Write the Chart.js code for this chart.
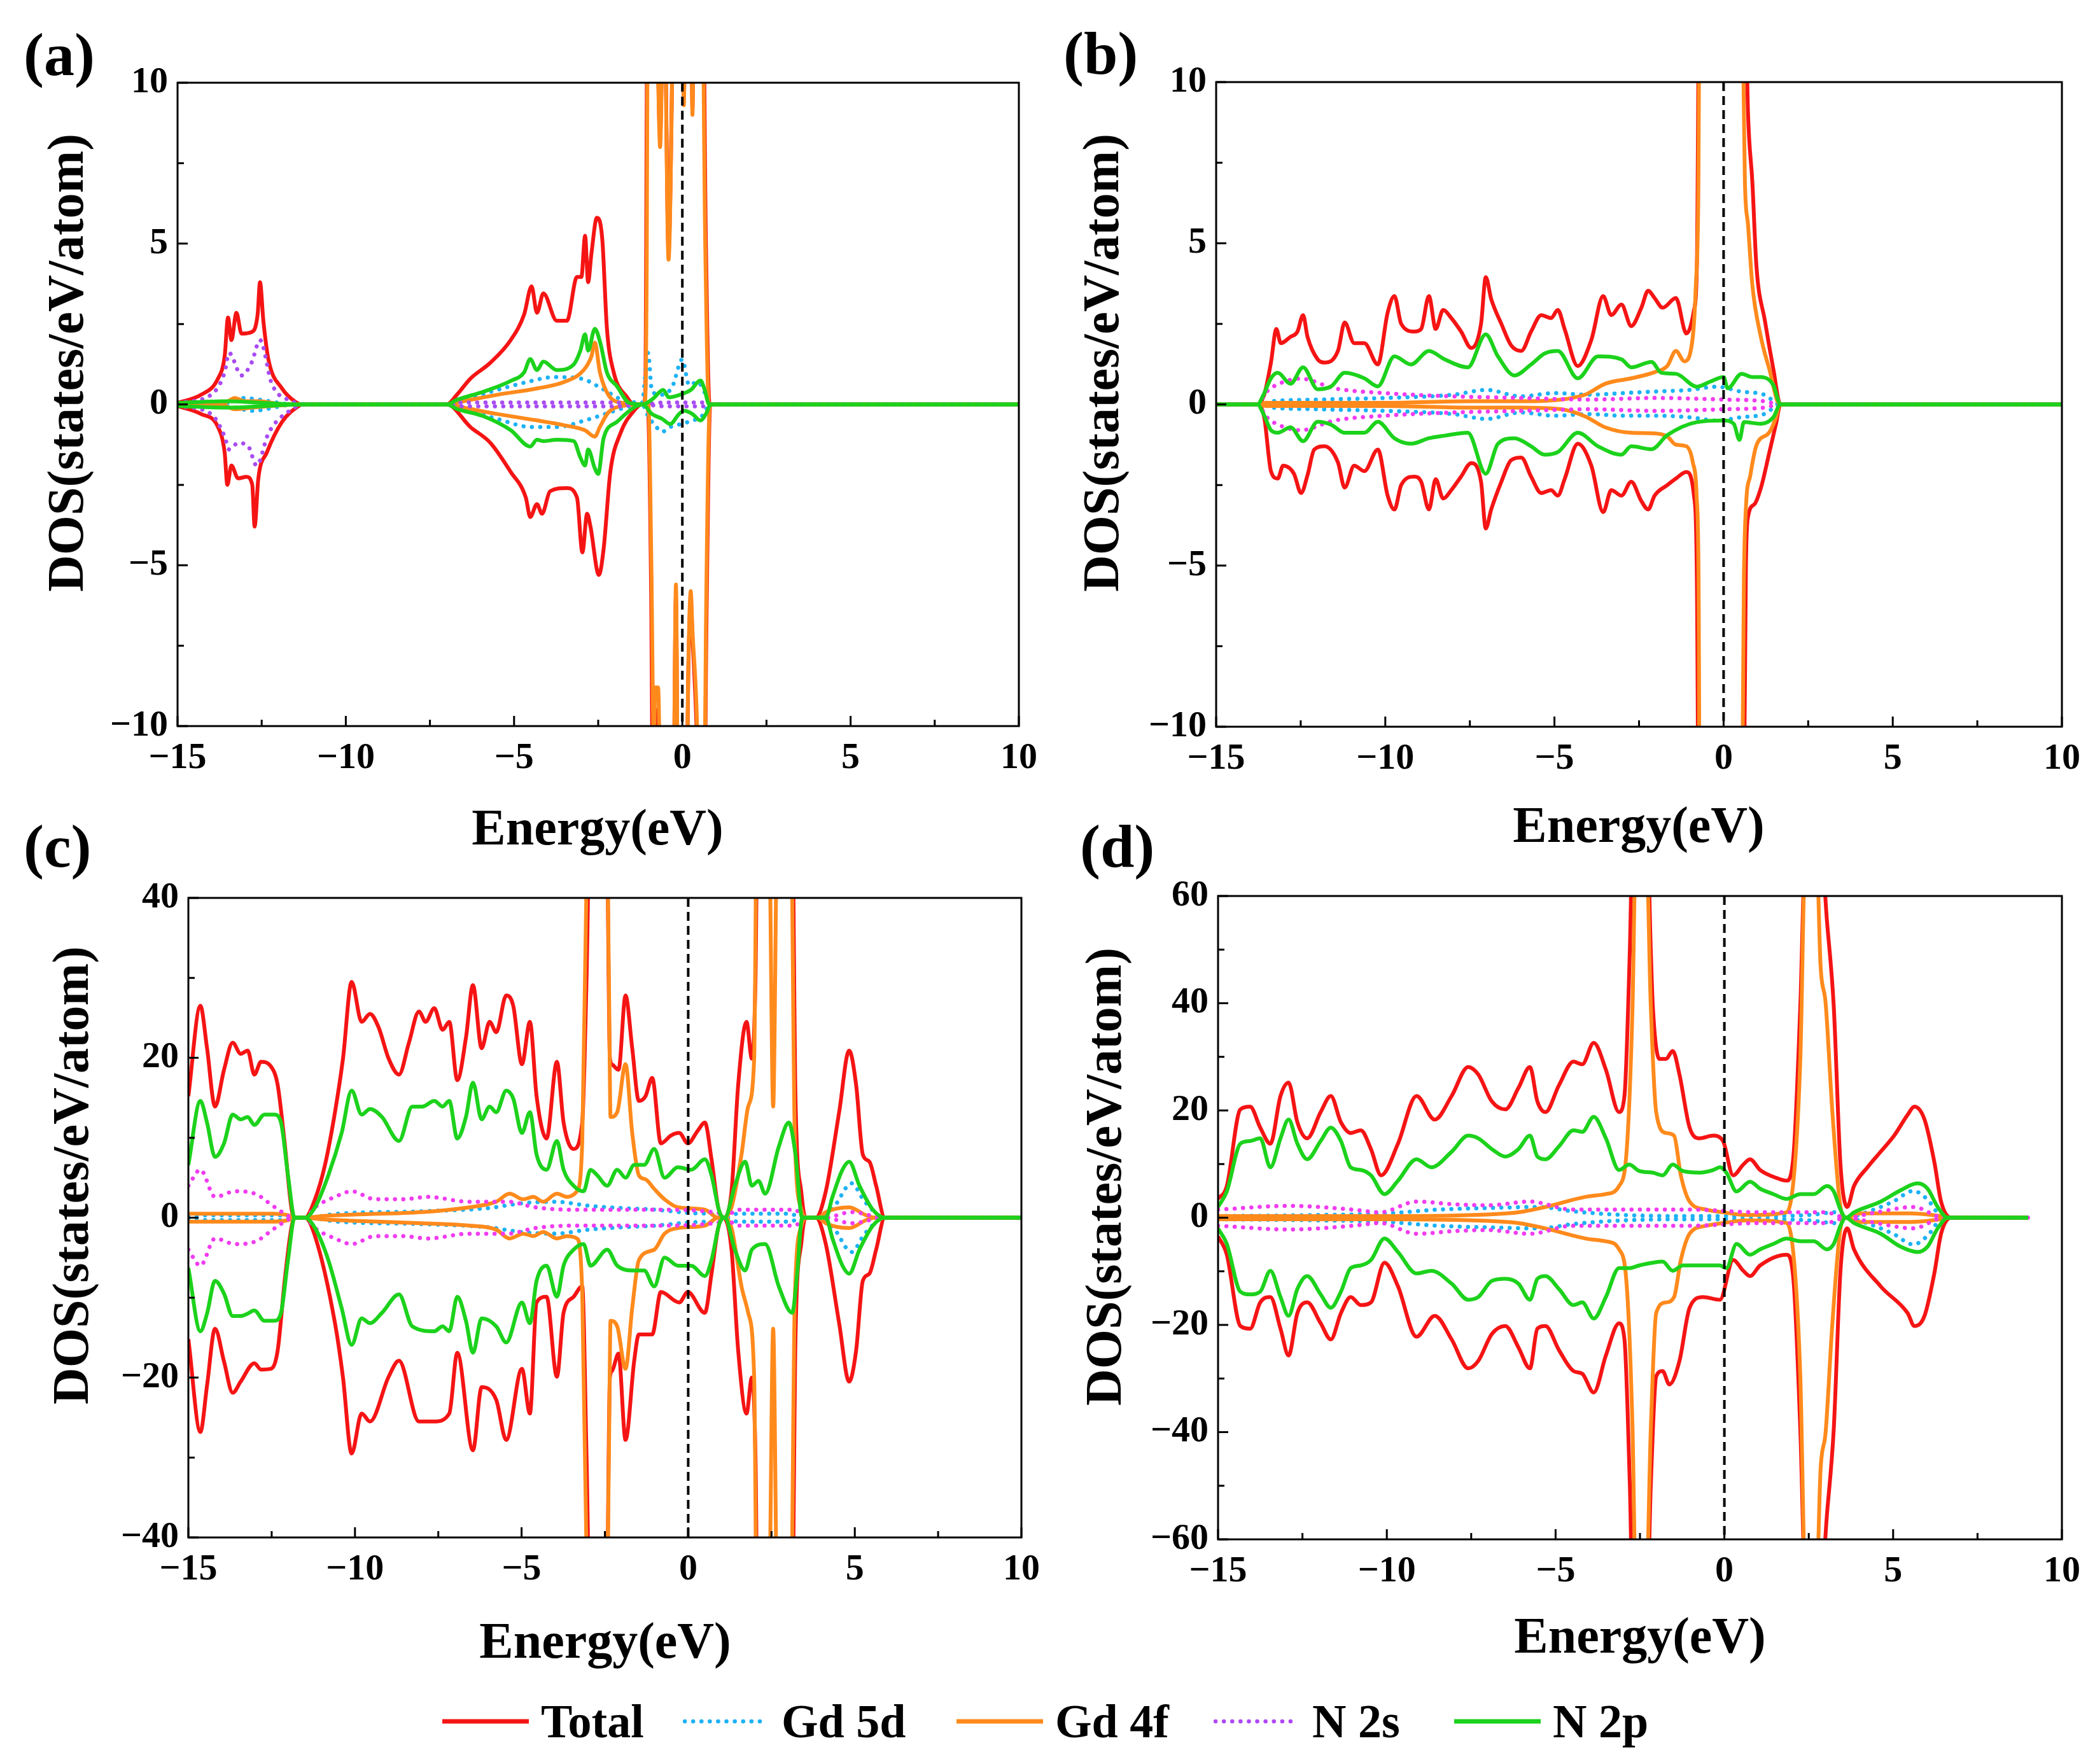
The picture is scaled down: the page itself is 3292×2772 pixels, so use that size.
<!DOCTYPE html>
<html>
<head>
<meta charset="utf-8">
<script src="https://cdn.jsdelivr.net/npm/chart.js"></script>
<style>
  body { margin: 0; background: #fff; }
  #fig { position: relative; width: 3292px; height: 2772px; overflow: hidden;
         font-family: "Liberation Serif", "Times New Roman", serif; font-weight: bold; color: #000; }
  #fig canvas { position: absolute; }
  .tag { position: absolute; font-size: 96px; line-height: 1; transform: translateY(-50%); }
  .xt { position: absolute; font-size: 80px; line-height: 1; white-space: nowrap; transform: translate(-50%, -50%); }
  .yt { position: absolute; font-size: 80px; line-height: 1; white-space: nowrap; transform: translate(-50%, -50%) rotate(-90deg); }
  .leg { position: absolute; top: 2705px; height: 0; display: flex; align-items: center; font-size: 74px; white-space: nowrap; }
  .leg svg { margin-right: 19px; }
</style>
</head>
<body>
<div id="fig">
  <canvas id="pa" width="1650" height="1330" style="left:0;top:0"></canvas>
  <canvas id="pb" width="1642" height="1330" style="left:1650px;top:0"></canvas>
  <canvas id="pc" width="1650" height="1200" style="left:0;top:1330px"></canvas>
  <canvas id="pd" width="1642" height="1200" style="left:1650px;top:1330px"></canvas>

  <div class="tag" style="left:37px;top:86px">(a)</div>
  <div class="tag" style="left:1671px;top:84px">(b)</div>
  <div class="tag" style="left:37px;top:1330px">(c)</div>
  <div class="tag" style="left:1697px;top:1330px">(d)</div>

  <div class="xt" style="left:939px;top:1300px">Energy(eV)</div>
  <div class="xt" style="left:2575px;top:1296px">Energy(eV)</div>
  <div class="xt" style="left:951px;top:2578px">Energy(eV)</div>
  <div class="xt" style="left:2577px;top:2570px">Energy(eV)</div>

  <div class="yt" style="left:103px;top:570px">DOS(states/eV/atom)</div>
  <div class="yt" style="left:1730px;top:570px">DOS(states/eV/atom)</div>
  <div class="yt" style="left:111px;top:1847px">DOS(states/eV/atom)</div>
  <div class="yt" style="left:1734px;top:1849px">DOS(states/eV/atom)</div>

  <div id="legendBox"></div>
</div>
<script>
// ---- axis ticks ----
const xTicks = [-15, -10, -5, 0, 5, 10];
const xMinor = [-12.5, -7.5, -2.5, 2.5, 7.5];
const yTicksAB = [-10, -5, 0, 5, 10];
const yMinorAB = [-7.5, -2.5, 2.5, 7.5];
const yTicksC = [-40, -20, 0, 20, 40];
const yMinorC = [-30, -10, 10, 30];
const yTicksD = [-60, -40, -20, 0, 20, 40, 60];
const yMinorD = [-50, -30, -10, 10, 30, 50];

const seriesNames = ['Total', 'Gd 5d', 'Gd 4f', 'N 2s', 'N 2p'];

// ---- panel (a): [energy, DOS] ----
const aTotUp = [[-15,0.05],[-14.3,0.3],[-13.8,0.8],[-13.6,1.5],[-13.5,2.7],[-13.4,2.0],[-13.25,2.85],[-13.1,2.2],[-12.8,2.25],[-12.62,2.8],[-12.55,3.8],[-12.45,2.6],[-12.3,1.4],[-11.9,0.5],[-11.5,0.08],[-11.3,0],[-7.0,0],[-6.7,0.3],[-6.3,0.8],[-5.7,1.3],[-5.1,2.0],[-4.7,2.8],[-4.48,3.67],[-4.32,2.85],[-4.13,3.45],[-3.73,2.6],[-3.43,2.6],[-3.13,3.96],[-3.0,3.96],[-2.89,5.24],[-2.8,3.8],[-2.7,4.7],[-2.54,5.8],[-2.38,5.15],[-2.24,2.35],[-2.04,1.0],[-1.64,0.22],[-1.44,0],[-1.15,0],[-1.1,0.4],[-1.03,14],[-0.8,14],[-0.66,8.3],[-0.55,14],[-0.41,4.8],[-0.22,14],[0.0,14],[0.045,9.5],[0.1,14],[0.25,14],[0.3,9.2],[0.36,14],[0.6,14],[0.7,5],[0.81,0],[10,0]];
const aTotDn = [[-15,-0.05],[-14.3,-0.3],[-13.8,-0.7],[-13.6,-1.5],[-13.52,-2.5],[-13.4,-1.9],[-13.2,-2.3],[-12.95,-2.25],[-12.78,-2.5],[-12.71,-3.8],[-12.6,-2.3],[-12.35,-1.5],[-11.9,-0.55],[-11.4,-0.05],[-11.3,0],[-7.0,0],[-6.3,-0.7],[-5.7,-1.2],[-5.1,-2.1],[-4.65,-2.9],[-4.52,-3.5],[-4.32,-3.1],[-4.17,-3.4],[-3.93,-2.7],[-3.43,-2.6],[-3.13,-2.9],[-2.97,-4.6],[-2.83,-3.4],[-2.73,-3.8],[-2.48,-5.3],[-2.34,-4.5],[-2.14,-2.1],[-1.84,-0.9],[-1.44,-0.2],[-1.2,0],[-1.03,0],[-0.93,-5.5],[-0.86,-14],[-0.8,-9.5],[-0.72,-9.5],[-0.62,-14],[-0.28,-14],[-0.19,-6],[-0.12,-14],[0.1,-14],[0.18,-8.2],[0.25,-6.1],[0.3,-7.2],[0.45,-11],[0.5,-14],[0.64,-14],[0.72,-6.5],[0.83,0],[10,0]];
const a5dUp = [[-15,0],[-13.5,0.05],[-13.0,0.2],[-12.6,0.15],[-11.5,0],[-7.0,0],[-6.3,0.2],[-5.5,0.45],[-4.6,0.7],[-3.8,0.85],[-3.0,0.8],[-2.4,0.5],[-1.8,0.15],[-1.2,0.05],[-1.02,1.6],[-0.9,0.4],[-0.6,0.3],[-0.3,0.55],[0.0,1.4],[0.2,0.6],[0.45,0.7],[0.7,0.3],[0.85,0],[10,0]];
const a5dDn = [[-15,0],[-13.3,-0.1],[-12.8,-0.2],[-11.5,0],[-7.0,0],[-6.3,-0.2],[-5.5,-0.45],[-4.5,-0.7],[-3.7,-0.7],[-2.9,-0.5],[-2.3,-0.3],[-1.7,-0.1],[-1.2,0],[-1.0,-0.4],[-0.85,-0.6],[-0.6,-0.85],[-0.35,-0.7],[0.0,-0.6],[0.3,-0.5],[0.55,-0.4],[0.85,0],[10,0]];
const a4fUp = [[-15,0],[-13.6,0.05],[-13.3,0.2],[-13.0,0.1],[-12.6,0.1],[-12.0,0.02],[-11.3,0],[-7.0,0],[-6.5,0.1],[-5.5,0.3],[-4.3,0.5],[-3.5,0.7],[-2.93,1.07],[-2.7,1.5],[-2.6,1.92],[-2.45,1.0],[-2.2,0.3],[-1.8,0.05],[-1.15,0],[-1.1,0.2],[-1.06,4],[-1.02,14],[-0.8,14],[-0.66,8.0],[-0.55,14],[-0.41,4.5],[-0.22,14],[0.0,14],[0.045,9.3],[0.1,14],[0.25,14],[0.3,9.0],[0.36,14],[0.58,14],[0.68,5],[0.79,0],[10,0]];
const a4fDn = [[-15,0],[-13.6,-0.05],[-13.3,-0.15],[-12.8,-0.1],[-11.3,0],[-7.0,0],[-6.5,-0.1],[-5.5,-0.3],[-4.3,-0.5],[-3.5,-0.65],[-2.9,-0.8],[-2.6,-1.0],[-2.45,-0.7],[-2.2,-0.25],[-1.8,-0.05],[-1.1,0],[-1.01,0],[-0.92,-5],[-0.85,-10.5],[-0.8,-8.8],[-0.72,-8.8],[-0.62,-14],[-0.28,-14],[-0.19,-5.6],[-0.12,-14],[0.1,-14],[0.18,-8],[0.25,-5.8],[0.3,-7],[0.45,-10.5],[0.5,-14],[0.64,-14],[0.7,-7],[0.82,0],[10,0]];
const a2sUp = [[-15,0.05],[-14.0,0.3],[-13.6,1.0],[-13.47,1.6],[-13.1,0.9],[-12.8,1.3],[-12.55,2.0],[-12.2,0.64],[-11.6,0.1],[-11.2,0],[-7.0,0],[-6.5,0.06],[-2.0,0.06],[-1.2,0],[-0.5,0.06],[0.6,0.06],[0.85,0],[10,0]];
const a2sDn = [[-15,-0.05],[-14.0,-0.3],[-13.6,-1.0],[-13.47,-1.4],[-13.2,-1.2],[-12.9,-1.3],[-12.65,-1.9],[-12.3,-0.9],[-11.6,-0.15],[-11.2,0],[-7.0,0],[-6.5,-0.06],[-2.0,-0.06],[-1.2,0],[-0.5,-0.06],[0.6,-0.06],[0.85,0],[10,0]];
const a2pUp = [[-15,0.05],[-13.5,0.1],[-13.0,0.08],[-11.3,0],[-7.0,0],[-6.7,0.14],[-5.9,0.4],[-5.1,0.73],[-4.7,1.0],[-4.52,1.41],[-4.32,1.07],[-4.13,1.33],[-3.73,1.07],[-3.23,1.24],[-3.03,1.67],[-2.89,2.18],[-2.8,1.67],[-2.6,2.35],[-2.44,1.92],[-2.24,0.99],[-1.94,0.56],[-1.58,0.05],[-1.18,0],[-0.88,0.17],[-0.57,0.45],[-0.4,0.22],[0.06,0.35],[0.25,0.45],[0.54,0.74],[0.65,0.5],[0.8,0],[10,0]];
const a2pDn = [[-15,-0.05],[-13.5,-0.1],[-11.3,0],[-7.0,0],[-6.7,-0.14],[-5.9,-0.37],[-5.1,-0.8],[-4.52,-1.31],[-4.32,-1.1],[-4.13,-1.14],[-3.73,-1.1],[-3.23,-1.14],[-3.03,-1.65],[-2.89,-1.9],[-2.8,-1.4],[-2.6,-1.99],[-2.5,-2.16],[-2.34,-1.05],[-1.94,-0.54],[-1.44,-0.1],[-1.18,0],[-0.9,-0.3],[-0.6,-0.45],[-0.36,-0.61],[-0.1,-0.3],[0.06,-0.2],[0.3,-0.3],[0.54,-0.5],[0.7,-0.3],[0.85,0],[10,0]];

// ---- panel (b) ----
const bTotUp = [[-15,0],[-13.78,0],[-13.58,0.3],[-13.38,1.3],[-13.22,2.34],[-13.09,1.9],[-12.8,2.1],[-12.6,2.25],[-12.43,2.77],[-12.3,2.1],[-12.0,1.4],[-11.8,1.3],[-11.4,1.66],[-11.2,2.54],[-10.92,1.9],[-10.62,1.9],[-10.22,1.24],[-9.93,2.85],[-9.73,3.36],[-9.53,2.5],[-9.14,2.26],[-8.94,2.34],[-8.71,3.36],[-8.51,2.34],[-8.29,2.93],[-8.05,2.68],[-7.76,2.26],[-7.46,1.75],[-7.17,2.5],[-7.03,3.95],[-6.87,3.27],[-6.57,2.5],[-6.28,1.83],[-5.98,1.66],[-5.69,2.26],[-5.39,2.77],[-5.1,2.68],[-4.9,2.93],[-4.7,2.34],[-4.31,1.19],[-3.91,2.0],[-3.56,3.36],[-3.32,2.77],[-3.02,3.1],[-2.73,2.43],[-2.43,3.0],[-2.23,3.53],[-2.04,3.3],[-1.8,3.0],[-1.41,3.3],[-1.1,2.2],[-0.88,2.9],[-0.79,4.3],[-0.71,14],[0.62,14],[0.72,9.1],[0.85,6.9],[0.97,4.3],[1.22,2.6],[1.47,1.1],[1.68,0],[10,0]];
const bTotDn = [[-15,0],[-13.78,0],[-13.58,-0.4],[-13.38,-2.07],[-13.18,-2.3],[-13.02,-1.9],[-12.7,-2.15],[-12.49,-2.75],[-12.3,-2.2],[-12.1,-1.4],[-11.8,-1.3],[-11.4,-1.8],[-11.2,-2.58],[-10.92,-1.9],[-10.62,-2.07],[-10.22,-1.4],[-9.93,-2.83],[-9.73,-3.26],[-9.53,-2.5],[-9.14,-2.24],[-8.94,-2.4],[-8.71,-3.26],[-8.51,-2.32],[-8.29,-2.92],[-8.05,-2.66],[-7.76,-2.24],[-7.46,-1.82],[-7.17,-2.4],[-7.03,-3.85],[-6.87,-3.26],[-6.57,-2.4],[-6.28,-1.73],[-5.98,-1.65],[-5.69,-2.24],[-5.39,-2.75],[-5.1,-2.66],[-4.9,-2.83],[-4.7,-2.32],[-4.31,-1.22],[-3.91,-1.9],[-3.56,-3.34],[-3.32,-2.66],[-3.02,-2.83],[-2.73,-2.4],[-2.43,-3.0],[-2.23,-3.26],[-2.04,-2.83],[-1.66,-2.5],[-1.41,-2.3],[-1.1,-2.1],[-0.88,-2.8],[-0.79,-5.4],[-0.73,-14],[0.58,-14],[0.66,-5.0],[0.72,-3.5],[0.91,-3.1],[1.1,-2.6],[1.35,-1.5],[1.55,-0.6],[1.68,0],[10,0]];
const b5dUp = [[-15,0],[-13.78,0],[-13.3,0.1],[-12.0,0.15],[-10.0,0.2],[-8.0,0.3],[-7.0,0.45],[-6.0,0.25],[-5.0,0.35],[-4.0,0.3],[-3.0,0.35],[-2.0,0.4],[-1.0,0.45],[-0.2,0.55],[0.5,0.4],[1.2,0.3],[1.68,0],[10,0]];
const b5dDn = [[-15,0],[-13.78,0],[-13.3,-0.1],[-12.0,-0.15],[-10.0,-0.2],[-8.0,-0.3],[-7.0,-0.45],[-6.0,-0.25],[-5.0,-0.35],[-4.0,-0.3],[-3.0,-0.35],[-2.0,-0.35],[-1.0,-0.4],[-0.2,-0.5],[0.5,-0.4],[1.2,-0.3],[1.68,0],[10,0]];
const b4fUp = [[-15,0],[-13.78,0],[-13.5,0.05],[-10.0,0.05],[-7.5,0.1],[-6.0,0.1],[-4.8,0.15],[-4.1,0.3],[-3.5,0.64],[-2.73,0.81],[-2.04,1.0],[-1.66,1.2],[-1.41,1.66],[-1.16,1.34],[-0.91,2.1],[-0.82,3.7],[-0.75,6.3],[-0.7,14],[0.53,14],[0.6,9.1],[0.63,6.9],[0.72,5.6],[0.85,3.7],[1.1,2.1],[1.35,1.1],[1.66,0],[10,0]];
const b4fDn = [[-15,0],[-13.78,0],[-13.5,-0.05],[-10.0,-0.05],[-7.5,-0.1],[-6.0,-0.1],[-4.8,-0.15],[-4.1,-0.37],[-3.5,-0.71],[-2.73,-0.88],[-2.04,-0.9],[-1.66,-1.0],[-1.41,-1.25],[-1.1,-1.3],[-0.91,-1.8],[-0.8,-2.8],[-0.74,-5.4],[-0.7,-14],[0.53,-14],[0.6,-5.4],[0.66,-3.2],[0.79,-2.2],[0.97,-1.27],[1.35,-0.87],[1.55,-0.4],[1.66,0],[10,0]];
const b2sUp = [[-15,0],[-13.78,0],[-13.5,0.4],[-13.0,0.7],[-12.5,0.8],[-11.5,0.5],[-10.0,0.35],[-8.0,0.25],[-6.0,0.2],[-4.0,0.15],[-2.0,0.2],[0.0,0.15],[1.2,0.1],[1.68,0],[10,0]];
const b2sDn = [[-15,0],[-13.78,0],[-13.5,-0.4],[-13.0,-0.7],[-12.5,-0.8],[-11.5,-0.5],[-10.0,-0.35],[-8.0,-0.25],[-6.0,-0.2],[-4.0,-0.15],[-2.0,-0.2],[0.0,-0.15],[1.2,-0.1],[1.68,0],[10,0]];
const b2pUp = [[-15,0],[-13.78,0],[-13.6,0.3],[-13.38,0.81],[-13.18,0.98],[-12.8,0.64],[-12.43,1.15],[-12.0,0.47],[-11.6,0.56],[-11.2,0.98],[-10.62,0.81],[-10.22,0.56],[-9.73,1.49],[-9.24,1.24],[-8.71,1.66],[-8.25,1.4],[-7.56,1.15],[-7.03,2.17],[-6.67,1.49],[-6.18,0.9],[-5.69,1.24],[-5.29,1.58],[-4.9,1.66],[-4.31,0.81],[-3.71,1.49],[-3.02,1.4],[-2.73,1.15],[-2.13,1.32],[-1.84,0.98],[-1.41,0.95],[-0.79,0.55],[-0.41,0.7],[0.0,0.85],[0.12,0.5],[0.53,0.95],[0.85,0.85],[1.1,0.85],[1.47,0.6],[1.68,0],[10,0]];
const b2pDn = [[-15,0],[-13.78,0],[-13.6,-0.3],[-13.38,-0.8],[-13.18,-0.88],[-12.8,-0.71],[-12.43,-1.14],[-12.0,-0.54],[-11.6,-0.63],[-11.2,-0.88],[-10.62,-0.88],[-10.22,-0.54],[-9.73,-1.05],[-9.24,-1.22],[-8.71,-1.05],[-8.25,-0.97],[-7.56,-0.88],[-7.03,-2.15],[-6.67,-1.22],[-6.18,-1.05],[-5.69,-1.3],[-5.29,-1.56],[-4.9,-1.48],[-4.31,-0.88],[-3.71,-1.3],[-3.02,-1.56],[-2.73,-1.3],[-2.13,-1.39],[-1.66,-0.95],[-0.79,-0.55],[0.0,-0.5],[0.3,-0.6],[0.47,-1.1],[0.6,-0.55],[1.1,-0.6],[1.47,-0.4],[1.68,0],[10,0]];

// ---- panel (c) ----
const cTotUp = [[-15,15.2],[-14.64,26.5],[-14.44,21.2],[-14.2,13.9],[-13.93,18.5],[-13.67,21.9],[-13.43,20.5],[-13.22,20.9],[-13.02,17.9],[-12.82,19.5],[-12.52,18.9],[-12.32,16.6],[-12.11,9.3],[-11.91,1.3],[-11.81,0],[-11.5,0],[-11.2,2.3],[-10.9,6.6],[-10.6,13.2],[-10.36,19.9],[-10.1,29.5],[-9.8,24.5],[-9.55,25.5],[-9.29,23.8],[-8.99,19.9],[-8.68,17.9],[-8.38,21.9],[-8.08,25.8],[-7.88,24.5],[-7.62,26.2],[-7.37,23.5],[-7.17,24.5],[-6.93,17.2],[-6.67,22.5],[-6.46,29.1],[-6.2,21.2],[-5.96,24.5],[-5.76,23.2],[-5.46,27.8],[-5.25,26.5],[-4.99,19.2],[-4.75,24.5],[-4.55,15.2],[-4.25,9.9],[-3.94,19.5],[-3.74,11.9],[-3.44,8.6],[-3.18,11.9],[-3.05,30],[-2.95,50],[-2.45,50],[-2.35,20],[-2.29,19.2],[-2.09,18.5],[-1.88,27.8],[-1.68,21.2],[-1.48,14.6],[-1.28,15.2],[-1.08,17.5],[-0.82,9.3],[-0.51,10.3],[-0.27,10.6],[-0.01,9.3],[0.29,10.9],[0.5,11.9],[0.7,7.3],[0.9,1.3],[1.06,0],[1.3,3.3],[1.5,16.6],[1.75,24.5],[1.91,19.9],[2.02,30],[2.08,50],[3.12,50],[3.22,15],[3.4,3],[3.52,0],[3.83,0],[4.13,3.3],[4.53,13.2],[4.83,20.9],[5.04,16.6],[5.24,7.9],[5.44,7.0],[5.64,4.0],[5.9,0],[10,0]];
const cTotDn = [[-15,-15.2],[-14.64,-26.8],[-14.44,-21],[-14.2,-13.9],[-13.93,-18],[-13.67,-21.9],[-13.43,-20.5],[-13.02,-18.2],[-12.82,-19],[-12.52,-18.9],[-12.32,-16.6],[-12.11,-7.9],[-11.91,-1.3],[-11.81,0],[-11.5,0],[-11.2,-2.3],[-10.6,-13.2],[-10.36,-20],[-10.1,-29.5],[-9.8,-24.5],[-9.55,-25.5],[-8.99,-19.9],[-8.68,-17.9],[-8.08,-25.5],[-7.62,-25.5],[-7.17,-24.5],[-6.93,-16.9],[-6.46,-29.1],[-6.2,-21.2],[-5.76,-22.8],[-5.46,-27.8],[-4.99,-18.9],[-4.75,-24.5],[-4.55,-10.6],[-4.25,-9.9],[-3.94,-19.9],[-3.74,-11.9],[-3.44,-9.9],[-3.18,-8.6],[-3.05,-30],[-2.95,-50],[-2.45,-50],[-2.35,-20],[-2.29,-19.2],[-2.09,-17],[-1.88,-27.8],[-1.62,-17.9],[-1.48,-14.6],[-1.08,-14.6],[-0.82,-9.3],[-0.27,-10.6],[-0.01,-9.3],[0.5,-11.9],[0.7,-7],[0.9,-1.3],[1.06,0],[1.3,-4],[1.5,-16.6],[1.75,-24.5],[1.91,-20],[2.02,-30],[2.08,-50],[3.12,-50],[3.22,-15],[3.4,-3],[3.52,0],[3.83,0],[4.13,-3.3],[4.53,-13.2],[4.83,-20.5],[5.04,-16.6],[5.24,-7.9],[5.44,-7],[5.64,-4],[5.9,0],[10,0]];
const c5dUp = [[-15,0.3],[-12.3,0.3],[-11.81,0],[-11.5,0],[-10.5,0.5],[-8.0,0.8],[-6.0,1.2],[-5.0,1.8],[-4.0,2.0],[-3.0,1.5],[-2.0,1.2],[-1.0,1.0],[0.0,0.6],[0.9,0.3],[1.06,0],[1.5,0.5],[3.0,0.5],[3.5,0],[4.0,0],[4.4,1.5],[4.9,4.3],[5.3,2.0],[5.9,0],[10,0]];
const c5dDn = [[-15,-0.3],[-12.3,-0.3],[-11.81,0],[-11.5,0],[-10.5,-0.5],[-8.0,-0.8],[-6.0,-1.2],[-5.0,-1.8],[-4.0,-2.0],[-3.0,-1.5],[-2.0,-1.2],[-1.0,-1.0],[0.0,-0.6],[0.9,-0.3],[1.06,0],[1.5,-0.5],[3.0,-0.5],[3.5,0],[4.0,0],[4.4,-1.5],[4.9,-4.3],[5.3,-2.0],[5.9,0],[10,0]];
const c4fUp = [[-15,0.5],[-12.5,0.5],[-12.0,0.3],[-11.81,0],[-11.5,0],[-11.0,0.2],[-10.0,0.4],[-8.0,0.7],[-6.57,1.3],[-5.76,2.0],[-5.36,3.0],[-4.95,2.3],[-4.65,2.6],[-4.35,2.0],[-3.94,3.0],[-3.64,2.6],[-3.34,3.3],[-3.18,9.3],[-3.04,45],[-2.95,50],[-2.45,50],[-2.38,30],[-2.33,12.6],[-2.13,13.2],[-1.88,19.2],[-1.68,10.6],[-1.48,5.3],[-1.28,4.8],[-1.02,3.6],[-0.71,2.3],[-0.31,1.3],[0.5,1.0],[0.9,0],[1.06,0],[1.3,1.3],[1.6,7.9],[1.8,13.9],[1.98,19.9],[2.06,50],[2.42,50],[2.55,13.9],[2.68,50],[3.08,50],[3.2,10],[3.4,1],[3.55,0],[3.9,0],[4.13,0.7],[4.83,1.3],[5.34,0.3],[5.6,0],[10,0]];
const c4fDn = [[-15,-0.5],[-12.5,-0.5],[-12.0,-0.3],[-11.81,0],[-11.5,0],[-11.0,-0.2],[-10.0,-0.4],[-8.0,-0.7],[-6.57,-1.0],[-5.76,-1.5],[-5.36,-2.6],[-4.95,-2.0],[-4.65,-2.3],[-4.35,-1.8],[-3.94,-2.6],[-3.64,-2.3],[-3.34,-2.6],[-3.18,-9.3],[-3.04,-45],[-2.95,-50],[-2.45,-50],[-2.38,-30],[-2.33,-12.9],[-2.13,-13.6],[-1.88,-18.9],[-1.68,-11.3],[-1.48,-5.3],[-1.02,-4.0],[-0.71,-2.0],[-0.31,-1.3],[0.5,-1.0],[0.9,0],[1.06,0],[1.3,-1.3],[1.6,-8.6],[1.8,-11.9],[1.98,-20],[2.06,-50],[2.42,-50],[2.55,-13.9],[2.68,-50],[3.08,-50],[3.2,-10],[3.4,-1],[3.55,0],[3.9,0],[4.13,-0.7],[4.83,-1.3],[5.34,-0.3],[5.6,0],[10,0]];
const c2sUp = [[-15,4.0],[-14.64,6.0],[-14.2,2.6],[-13.6,3.3],[-13.0,3.0],[-12.4,1.3],[-11.81,0],[-11.5,0],[-11.2,1.3],[-10.6,2.6],[-10.1,3.3],[-9.4,2.3],[-8.6,2.3],[-7.8,2.6],[-6.6,2.0],[-5.4,2.0],[-4.6,1.3],[-3.5,1.0],[-1.0,1.0],[0.9,0.6],[1.06,0],[1.5,1.0],[3.2,1.0],[3.5,0],[4.1,0],[4.9,0.7],[5.9,0],[10,0]];
const c2sDn = [[-15,-4.0],[-14.64,-6.0],[-14.2,-2.6],[-13.6,-3.3],[-13.0,-3.0],[-12.4,-1.3],[-11.81,0],[-11.5,0],[-11.2,-1.3],[-10.6,-2.6],[-10.1,-3.3],[-9.4,-2.3],[-8.6,-2.3],[-7.8,-2.6],[-6.6,-2.0],[-5.4,-2.0],[-4.6,-1.3],[-3.5,-1.0],[-1.0,-1.0],[0.9,-0.6],[1.06,0],[1.5,-1.0],[3.2,-1.0],[3.5,0],[4.1,0],[4.9,-0.7],[5.9,0],[10,0]];
const c2pUp = [[-15,6.6],[-14.64,14.6],[-14.44,11.9],[-14.2,7.6],[-13.93,9.3],[-13.67,12.9],[-13.43,12.3],[-13.22,12.6],[-13.02,11.6],[-12.72,12.9],[-12.42,12.9],[-12.22,11.9],[-12.01,5.3],[-11.81,0],[-11.5,0],[-11.2,1.3],[-10.8,5.3],[-10.4,10.6],[-10.1,15.9],[-9.8,12.9],[-9.55,13.6],[-9.19,12.6],[-8.68,9.6],[-8.28,13.9],[-7.98,13.9],[-7.62,14.6],[-7.37,13.9],[-7.17,14.6],[-6.93,9.9],[-6.67,12.6],[-6.46,16.9],[-6.2,12.3],[-5.96,13.9],[-5.76,13.2],[-5.46,15.9],[-5.25,14.9],[-4.99,10.6],[-4.75,13.2],[-4.55,7.9],[-4.25,6.0],[-3.94,9.6],[-3.74,6.0],[-3.44,4.0],[-3.14,3.3],[-2.93,6.0],[-2.73,5.3],[-2.43,4.0],[-2.13,6.0],[-1.88,5.0],[-1.62,6.6],[-1.32,6.6],[-1.02,8.6],[-0.71,5.0],[-0.31,6.3],[0.09,6.0],[0.5,7.3],[0.7,5.3],[0.94,0.7],[1.1,0],[1.4,4.0],[1.71,7.0],[1.91,4.0],[2.11,4.6],[2.31,3.0],[2.72,8.9],[3.02,11.9],[3.22,7.9],[3.42,0],[4.13,0],[4.33,2.6],[4.63,6.0],[4.83,7.0],[5.14,4.0],[5.54,1.0],[5.9,0],[10,0]];
const c2pDn = [[-15,-6.3],[-14.64,-14.2],[-14.44,-12],[-14.2,-7.9],[-13.93,-9.5],[-13.67,-12.3],[-13.43,-12.3],[-13.22,-12],[-13.02,-11.6],[-12.72,-12.9],[-12.42,-12.9],[-12.22,-11.9],[-12.01,-5.3],[-11.81,0],[-11.5,0],[-11.2,-1.3],[-10.8,-5.3],[-10.4,-11.3],[-10.1,-15.9],[-9.8,-12.6],[-9.55,-13.2],[-9.19,-11.9],[-8.68,-9.6],[-8.28,-13.6],[-7.62,-14.2],[-7.37,-13.6],[-7.17,-14.2],[-6.93,-9.9],[-6.67,-12.9],[-6.46,-16.9],[-6.2,-12.6],[-5.76,-13.6],[-5.46,-15.6],[-4.99,-10.6],[-4.75,-13.2],[-4.55,-7.9],[-4.25,-6.0],[-3.94,-9.9],[-3.74,-6.0],[-3.44,-4.0],[-3.14,-3.3],[-2.93,-6.0],[-2.43,-4.0],[-2.13,-6.0],[-1.62,-6.6],[-1.32,-6.6],[-1.02,-8.6],[-0.71,-5.0],[-0.31,-6.0],[0.09,-6.0],[0.5,-7.3],[0.7,-5.3],[0.94,-0.7],[1.1,0],[1.4,-4.0],[1.71,-6.6],[1.91,-4.0],[2.31,-3.3],[2.72,-8.6],[3.12,-11.9],[3.27,-7],[3.42,0],[4.13,0],[4.33,-2.6],[4.63,-6.0],[4.83,-7.0],[5.14,-4.0],[5.54,-1.0],[5.9,0],[10,0]];

// ---- panel (d) ----
const dTotUp = [[-15,3.5],[-14.74,5.9],[-14.34,20.2],[-14.05,20.7],[-13.75,16.8],[-13.45,13.8],[-13.15,22.7],[-12.91,25.2],[-12.65,17.8],[-12.36,14.8],[-11.96,19.7],[-11.66,22.7],[-11.36,17.8],[-11.07,15.8],[-10.77,16.3],[-10.47,12.8],[-10.17,7.9],[-9.67,13.8],[-9.12,22.7],[-8.58,18.3],[-8.08,22.7],[-7.59,28.1],[-7.29,26.7],[-6.89,21.7],[-6.49,20.2],[-6.1,24.2],[-5.76,28.1],[-5.54,21.7],[-5.3,19.7],[-4.9,24.7],[-4.47,29.1],[-4.21,28.6],[-3.87,32.6],[-3.51,27.6],[-3.12,19.7],[-2.96,22.7],[-2.8,50],[-2.72,70],[-2.28,70],[-2.18,50],[-2.12,39.5],[-1.92,29.6],[-1.73,29.6],[-1.53,31.1],[-1.33,26.7],[-1.03,16.8],[-0.73,14.8],[-0.33,15.3],[-0.04,14.3],[0.26,7.9],[0.56,9.9],[0.76,10.9],[1.06,8.9],[1.55,7.4],[1.85,6.9],[2.05,11.8],[2.25,39.5],[2.41,70],[2.85,70],[3.04,55.3],[3.24,39.5],[3.44,9.9],[3.64,2.0],[3.84,5.9],[4.24,9.4],[4.63,12.3],[5.03,15.3],[5.43,19.2],[5.63,20.7],[5.93,18.3],[6.22,10.4],[6.42,3.0],[6.72,0],[9.0,0]];
const dTotDn = [[-15,-3.5],[-14.74,-6.9],[-14.34,-20.2],[-14.05,-20.7],[-13.75,-15.8],[-13.45,-14.8],[-13.15,-20.7],[-12.91,-25.7],[-12.65,-17.8],[-12.36,-15.8],[-11.96,-19.7],[-11.66,-22.7],[-11.36,-17.8],[-11.07,-14.8],[-10.77,-16.3],[-10.47,-15.8],[-10.07,-8.4],[-9.67,-12.8],[-9.12,-22.2],[-8.58,-18.3],[-8.08,-22.7],[-7.59,-28.1],[-7.29,-26.7],[-6.89,-21.7],[-6.49,-20.2],[-6.1,-24.2],[-5.76,-28.1],[-5.54,-20.7],[-5.3,-20.2],[-4.9,-24.7],[-4.47,-28.6],[-4.21,-29.1],[-3.87,-32.6],[-3.51,-25.7],[-3.12,-19.7],[-2.96,-22.7],[-2.8,-50],[-2.72,-70],[-2.28,-70],[-2.18,-50],[-2.02,-29.6],[-1.83,-28.6],[-1.63,-31.1],[-1.33,-26.7],[-1.03,-16.8],[-0.63,-14.8],[-0.13,-15.3],[0.26,-7.9],[0.56,-9.9],[0.76,-10.9],[1.06,-8.9],[1.85,-6.9],[2.05,-11.8],[2.25,-39.5],[2.41,-70],[2.85,-70],[3.04,-55.3],[3.24,-39.5],[3.44,-9.9],[3.64,-2.0],[3.84,-5.9],[4.63,-12.8],[5.43,-17.8],[5.63,-20.2],[5.93,-18.3],[6.22,-10.4],[6.42,-3.0],[6.72,0],[9.0,0]];
const d5dUp = [[-15,0.3],[-12.0,0.5],[-10.0,0.8],[-8.5,1.5],[-7.0,1.8],[-5.5,2.0],[-4.5,1.2],[-3.0,0.5],[-1.0,0.3],[1.0,0.3],[2.5,0.5],[3.3,1.0],[3.6,0],[4.2,1.0],[5.0,3.0],[5.6,5.0],[6.0,3.5],[6.5,0],[9.0,0]];
const d5dDn = [[-15,-0.3],[-12.0,-0.5],[-10.0,-0.8],[-8.5,-1.5],[-7.0,-1.8],[-5.5,-2.0],[-4.5,-1.2],[-3.0,-0.5],[-1.0,-0.3],[1.0,-0.3],[2.5,-0.5],[3.3,-1.0],[3.6,0],[4.2,-1.0],[5.0,-3.0],[5.6,-5.0],[6.0,-3.5],[6.5,0],[9.0,0]];
const d4fUp = [[-15,0.3],[-10.0,0.3],[-7.0,0.6],[-6.1,1.0],[-5.3,2.0],[-4.1,3.9],[-3.51,4.4],[-3.12,5.9],[-2.88,13.8],[-2.72,39.5],[-2.62,70],[-2.32,70],[-2.18,39.5],[-2.02,19.7],[-1.73,15.8],[-1.49,15.3],[-1.29,7.9],[-1.03,3.0],[-0.53,1.5],[-0.04,1.0],[0.66,0.5],[1.85,1.0],[2.09,9.9],[2.25,29.6],[2.41,70],[2.72,70],[2.85,47],[3.0,40],[3.2,19.7],[3.44,2.0],[3.6,0],[4.0,0.8],[5.5,0.8],[6.4,0.3],[6.72,0],[9.0,0]];
const d4fDn = [[-15,-0.3],[-10.0,-0.3],[-7.0,-0.6],[-6.1,-1.0],[-5.3,-2.0],[-4.1,-3.9],[-3.51,-4.4],[-3.12,-5.9],[-2.88,-13.8],[-2.72,-39.5],[-2.62,-70],[-2.32,-70],[-2.18,-39.5],[-2.02,-17.8],[-1.73,-15.8],[-1.49,-14.8],[-1.29,-7.9],[-1.03,-3.0],[-0.53,-1.5],[-0.04,-1.0],[0.66,-0.5],[1.85,-1.0],[2.09,-9.9],[2.25,-29.6],[2.41,-70],[2.72,-70],[2.85,-47],[3.0,-40],[3.2,-19.7],[3.44,-2.0],[3.6,0],[4.0,-0.8],[5.5,-0.8],[6.4,-0.3],[6.72,0],[9.0,0]];
const d2sUp = [[-15,1.5],[-12.9,2.2],[-11.0,1.5],[-10.2,1.0],[-9.12,3.0],[-8.0,2.5],[-7.0,2.3],[-5.76,3.0],[-4.5,1.5],[-3.0,1.5],[-1.0,1.5],[1.0,1.0],[3.0,1.0],[3.6,0],[4.5,1.0],[5.6,2.0],[6.5,0],[9.0,0]];
const d2sDn = [[-15,-1.5],[-12.9,-2.2],[-11.0,-1.5],[-10.2,-1.0],[-9.12,-3.0],[-8.0,-2.5],[-7.0,-2.3],[-5.76,-3.0],[-4.5,-1.5],[-3.0,-1.5],[-1.0,-1.5],[1.0,-1.0],[3.0,-1.0],[3.6,0],[4.5,-1.0],[5.6,-2.0],[6.5,0],[9.0,0]];
const d2pUp = [[-15,2.0],[-14.74,4.9],[-14.34,13.8],[-14.05,14.3],[-13.75,14.8],[-13.45,9.4],[-13.15,14.8],[-12.91,18.3],[-12.65,13.8],[-12.36,10.9],[-11.96,14.3],[-11.66,16.8],[-11.36,14.3],[-11.07,9.4],[-10.77,8.9],[-10.47,7.9],[-10.07,4.4],[-9.67,6.9],[-9.12,10.9],[-8.68,9.4],[-8.08,12.3],[-7.59,15.3],[-7.29,14.8],[-6.89,12.8],[-6.49,11.4],[-6.1,12.8],[-5.76,15.3],[-5.54,11.4],[-5.3,10.9],[-4.9,13.3],[-4.47,16.3],[-4.21,16.0],[-3.87,18.8],[-3.51,14.8],[-3.12,8.9],[-2.82,9.9],[-2.52,8.7],[-2.12,8.4],[-1.83,7.9],[-1.53,9.9],[-1.23,8.7],[-0.73,8.4],[-0.33,8.9],[-0.13,9.4],[0.06,8.4],[0.36,4.9],[0.76,6.7],[1.06,5.4],[1.45,4.4],[1.85,3.5],[2.25,4.4],[2.65,4.4],[3.04,5.9],[3.24,4.9],[3.44,1.5],[3.6,0],[3.84,1.0],[4.63,3.0],[5.22,5.1],[5.72,6.4],[6.02,5.4],[6.32,2.0],[6.62,0],[9.0,0]];
const d2pDn = [[-15,-2.0],[-14.74,-4.9],[-14.34,-13.8],[-14.05,-14.3],[-13.75,-13.8],[-13.45,-9.9],[-13.15,-14.8],[-12.91,-18.3],[-12.65,-13.3],[-12.36,-10.9],[-11.96,-14.3],[-11.66,-16.8],[-11.36,-13.8],[-11.07,-9.4],[-10.77,-8.9],[-10.47,-7.9],[-10.07,-3.9],[-9.67,-6.4],[-9.12,-10.4],[-8.68,-9.9],[-8.08,-12.3],[-7.59,-15.3],[-7.29,-14.8],[-6.89,-11.8],[-6.49,-11.4],[-6.1,-12.3],[-5.76,-15.3],[-5.54,-11.4],[-5.3,-10.9],[-4.9,-13.3],[-4.47,-16.3],[-4.21,-15.8],[-3.87,-18.8],[-3.51,-14.8],[-3.12,-9.4],[-2.82,-9.4],[-2.52,-8.9],[-2.12,-8.4],[-1.83,-8.2],[-1.53,-9.9],[-1.23,-8.9],[-0.73,-8.9],[-0.13,-8.9],[0.06,-9.4],[0.36,-4.9],[0.76,-6.9],[1.06,-5.9],[1.45,-4.9],[1.85,-3.9],[2.25,-4.4],[2.65,-4.4],[3.04,-5.9],[3.24,-4.9],[3.44,-1.5],[3.6,0],[3.84,-1.0],[4.63,-3.0],[5.22,-5.4],[5.72,-6.4],[6.02,-5.4],[6.32,-2.0],[6.62,0],[9.0,0]];

// colours, drawing order follows the plot order (N 2p on top)
const red = '#f51414';
const cyan = '#1db2f5';
const orange = '#ff8a1c';
const purple = '#a84cf2';
const magenta = '#f03cf0';
const green = '#1cd21c';

const tickFont = { family: '"Liberation Serif", "Times New Roman", serif', size: 58, weight: 'bold' };

function fmt(v) {
    return v < 0 ? '\u2212' + Math.abs(v) : String(v);
}

function line(points, color, dotted, order) {
    return {
        data: points.map(p => ({ x: p[0], y: p[1] })),
        borderColor: color,
        borderWidth: dotted ? 6.5 : 6,
        borderDash: dotted ? [0.1, 13] : [],
        borderCapStyle: dotted ? 'round' : 'butt',
        borderJoinStyle: 'round',
        pointRadius: 0,
        fill: false,
        cubicInterpolationMode: 'monotone',
        clip: 0,
        order: order
    };
}

// frame, inward ticks and the Fermi level line
const frameTicks = {
    id: 'frameTicks',
    afterDatasetsDraw(chart, args, opts) {
        const { ctx, chartArea: a, scales: { x, y } } = chart;
        ctx.save();
        const x0 = x.getPixelForValue(0);
        ctx.strokeStyle = '#000';
        ctx.lineWidth = 4;
        ctx.setLineDash([14, 8]);
        ctx.beginPath();
        ctx.moveTo(x0, a.top);
        ctx.lineTo(x0, a.bottom);
        ctx.stroke();
        ctx.setLineDash([]);
        ctx.lineWidth = 3;
        ctx.beginPath();
        xTicks.forEach(v => { const px = x.getPixelForValue(v); ctx.moveTo(px, a.bottom); ctx.lineTo(px, a.bottom - 16); });
        xMinor.forEach(v => { const px = x.getPixelForValue(v); ctx.moveTo(px, a.bottom); ctx.lineTo(px, a.bottom - 10); });
        opts.yTicks.forEach(v => { const py = y.getPixelForValue(v); ctx.moveTo(a.left, py); ctx.lineTo(a.left + 16, py); });
        opts.yMinor.forEach(v => { const py = y.getPixelForValue(v); ctx.moveTo(a.left, py); ctx.lineTo(a.left + 10, py); });
        ctx.stroke();
        ctx.strokeRect(a.left, a.top, a.right - a.left, a.bottom - a.top);
        ctx.restore();
    }
};

function makePanel(id, canvasBox, area, yLim, yTicks, yMinor, s2Color, sets) {
    const datasets = [
        line(sets[0][0], red, false, 5), line(sets[0][1], red, false, 5),
        line(sets[1][0], cyan, true, 4), line(sets[1][1], cyan, true, 4),
        line(sets[2][0], orange, false, 3), line(sets[2][1], orange, false, 3),
        line(sets[3][0], s2Color, true, 2), line(sets[3][1], s2Color, true, 2),
        line(sets[4][0], green, false, 1), line(sets[4][1], green, false, 1)
    ];
    new Chart(document.getElementById(id), {
        type: 'line',
        data: { datasets: datasets },
        options: {
            responsive: false,
            animation: false,
            devicePixelRatio: 1,
            layout: { padding: { top: area.top - canvasBox.top, right: canvasBox.left + canvasBox.width - area.right, bottom: 0, left: 0 } },
            plugins: { legend: { display: false }, tooltip: { enabled: false }, frameTicks: { yTicks: yTicks, yMinor: yMinor } },
            scales: {
                x: {
                    type: 'linear', min: -15, max: 10,
                    afterBuildTicks: s => { s.ticks = xTicks.map(v => ({ value: v })); },
                    afterFit: s => { s.height = canvasBox.top + canvasBox.height - area.bottom; },
                    ticks: { font: tickFont, color: '#000', padding: 16, maxRotation: 0, autoSkip: false, callback: fmt },
                    grid: { display: false, drawTicks: false },
                    border: { display: false }
                },
                y: {
                    type: 'linear', min: yLim[0], max: yLim[1],
                    afterBuildTicks: s => { s.ticks = yTicks.map(v => ({ value: v })); },
                    afterFit: s => { s.width = area.left - canvasBox.left; },
                    ticks: { font: tickFont, color: '#000', padding: 15, autoSkip: false, callback: fmt },
                    grid: { display: false, drawTicks: false },
                    border: { display: false }
                }
            }
        },
        plugins: [frameTicks]
    });
}

makePanel('pa', { left: 0, top: 0, width: 1650, height: 1330 }, { left: 279, top: 130, right: 1601, bottom: 1141 },
    [-10, 10], yTicksAB, yMinorAB, purple,
    [[aTotUp, aTotDn], [a5dUp, a5dDn], [a4fUp, a4fDn], [a2sUp, a2sDn], [a2pUp, a2pDn]]);
makePanel('pb', { left: 1650, top: 0, width: 1642, height: 1330 }, { left: 1911, top: 129, right: 3240, bottom: 1142 },
    [-10, 10], yTicksAB, yMinorAB, magenta,
    [[bTotUp, bTotDn], [b5dUp, b5dDn], [b4fUp, b4fDn], [b2sUp, b2sDn], [b2pUp, b2pDn]]);
makePanel('pc', { left: 0, top: 1330, width: 1650, height: 1200 }, { left: 296, top: 1411, right: 1609, bottom: 2416 },
    [-40, 40], yTicksC, yMinorC, magenta,
    [[cTotUp, cTotDn], [c5dUp, c5dDn], [c4fUp, c4fDn], [c2sUp, c2sDn], [c2pUp, c2pDn]]);
makePanel('pd', { left: 1650, top: 1330, width: 1642, height: 1200 }, { left: 1914, top: 1408, right: 3240, bottom: 2419 },
    [-60, 60], yTicksD, yMinorD, magenta,
    [[dTotUp, dTotDn], [d5dUp, d5dDn], [d4fUp, d4fDn], [d2sUp, d2sDn], [d2pUp, d2pDn]]);

// legend row under the panels
const legendColors = [red, cyan, orange, '#b048f5', green];
const legendDotted = [false, true, false, true, false];
const legendLeft = [695, 1073, 1503, 1907, 2285];
const box = document.getElementById('legendBox');
seriesNames.forEach((name, i) => {
    const item = document.createElement('div');
    item.className = 'leg';
    item.style.left = legendLeft[i] + 'px';
    const stroke = legendDotted[i]
        ? `<line x1="3" y1="6" x2="133" y2="6" stroke="${legendColors[i]}" stroke-width="6.5" stroke-linecap="round" stroke-dasharray="0.1 13"/>`
        : `<line x1="0" y1="6" x2="136" y2="6" stroke="${legendColors[i]}" stroke-width="7"/>`;
    item.innerHTML = `<svg width="136" height="12">${stroke}</svg><span>${name}</span>`;
    box.appendChild(item);
});
</script>
</body>
</html>
